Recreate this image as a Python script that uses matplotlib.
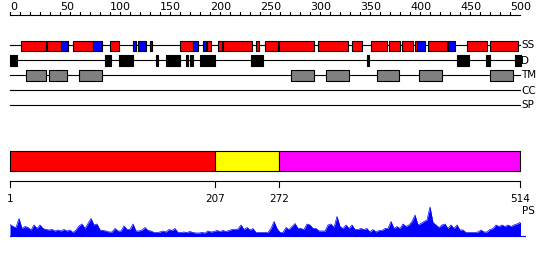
import numpy as np
import matplotlib
matplotlib.use("Agg")
import matplotlib.pyplot as plt

# ------------------------------------------------------------
# data (residue numbers)
# ------------------------------------------------------------
ruler_max = 500
track_names = ["SS", "D", "TM", "CC", "SP"]

ss_helix = [(11, 36), (37, 51), (63, 83), (100, 109), (170, 183), (197, 201),
            (208, 212), (213, 242), (246, 249), (255, 268), (269, 304),
            (308, 338), (342, 352), (361, 377), (379, 390), (392, 403),
            (405, 407), (418, 437), (457, 477), (480, 508)]
ss_strand = [(51, 58), (83, 92), (123, 126), (128, 136), (140, 142),
             (183, 188), (193, 196), (407, 415), (438, 445)]
disorder = [(0, 7), (95, 101), (109, 113), (114, 120), (121, 123), (146, 148),
            (156, 170), (176, 178), (180, 183), (190, 199), (200, 205),
            (241, 253), (357, 359), (447, 459), (476, 480), (505, 511)]
tm_helix = [(16, 36), (39, 57), (69, 92), (281, 304), (316, 339),
            (367, 389), (409, 432), (480, 503)]
coiled_coil = []
signal_peptide = []

domain_bounds = [1, 207, 272, 514]
domain_colors = ["#ff0000", "#ffff00", "#ff00ff"]

# PS profile, one value every 3 residues (0..510)
ps_step = 3
ps_height = [11, 9, 8, 17, 7, 9, 8, 5.5, 10.5, 7, 10.5, 7, 6, 5.5, 6, 4.5,
             5.5, 4.5, 6, 4.5, 5.5, 3, 5.5, 9.5, 11.5, 7, 12, 17, 10.5, 11.5,
             5.5, 5, 4.5, 3.5, 3.5, 7, 4.5, 4.5, 9.5, 6, 6, 11.5, 4.5, 4.5,
             5.5, 8, 5, 4.5, 3, 3, 3.5, 4.5, 3.5, 6, 5, 7, 3, 3, 3.5, 3, 4,
             3, 2.5, 2.5, 3, 2.5, 4.5, 3.5, 4, 5, 4, 5, 4, 5, 6, 6, 6.5, 10.5,
             6, 8, 5.5, 7, 3, 3, 3, 3, 3, 7, 14, 7, 3, 3, 8, 6, 9, 12, 7, 7, 6,
             11.5, 10.5, 7, 7, 4.5, 4.5, 4.5, 10.5, 11.5, 8, 19, 9, 7, 10.5, 7,
             10.5, 6, 6, 7, 6, 7, 3.5, 6, 3.5, 5, 5, 7, 7, 14, 7, 9, 7, 11.5, 9,
             10.5, 14, 20.5, 10.5, 12, 14, 15.5, 28.5, 13, 10.5, 8, 10.5, 11.5,
             7, 10.5, 7, 10.5, 5.5, 5.5, 3, 3, 3, 3, 3.5, 5.5, 3.5, 3.5, 6, 7,
             10.5, 9, 10.5, 9, 10.5, 9, 10.5, 11.5, 13, 19.5]
ps_res = np.arange(len(ps_height)) * ps_step

W, H = 550, 260
LW = 0.8


def px_axes(fig, x0, y0, x1, y1):
    ax = fig.add_axes([x0 / W, 1 - y1 / H, (x1 - x0) / W, (y1 - y0) / H])
    ax.set_axis_off()
    return ax


def spans(lst):
    return [(s, e - s) for s, e in lst]


fig = plt.figure(figsize=(5.5, 2.6), dpi=100)

# ============================================================
# top: ruler + feature tracks
# ============================================================
top = px_axes(fig, 0, 0, 550, 115)
top.set_xlim(-10, 540)
top.set_ylim(115, 0)

top.plot([0, 510], [15, 15], color="k", lw=LW)
for t in range(0, ruler_max + 1, 10):
    top.plot([t, t], [11.5, 15], color="k", lw=LW)
    if t % 50 == 0:
        top.text(t, 10, str(t), ha="left", va="baseline", fontsize=8)

track_y = [45, 60, 75, 90, 105]
for name, y in zip(track_names, track_y):
    top.plot([0, 510], [y, y], color="k", lw=LW, zorder=1)
    top.text(511, y + 0.5, name, ha="left", va="center", fontsize=7.5)

box = dict(edgecolors="k", linewidth=LW, zorder=2)
top.broken_barh(spans(ss_helix), (40.5, 10), facecolors="#ff0000", **box)
top.broken_barh(spans(ss_strand), (40.5, 10), facecolors="#0000ff", **box)
top.broken_barh(spans(disorder), (54.5, 11), facecolors="k", **box)
top.broken_barh(spans(tm_helix), (70, 10.5), facecolors="#808080", **box)
top.broken_barh(spans(coiled_coil), (85, 10), facecolors="#00aa00", **box)
top.broken_barh(spans(signal_peptide), (100, 10), facecolors="#00aaff", **box)

# ============================================================
# domain bar + position ruler
# ============================================================
bar = px_axes(fig, 10, 140, 520, 210)
bar.set_xlim(domain_bounds[0], domain_bounds[-1])
bar.set_ylim(210, 140)

dom = [(a, b) for a, b in zip(domain_bounds[:-1], domain_bounds[1:])]
bar.broken_barh(spans(dom), (150.5, 20.5), facecolors=domain_colors,
                edgecolors="k", linewidth=LW, clip_on=False)
bar.plot([domain_bounds[0], domain_bounds[-1]], [181, 181], color="k",
         lw=LW, clip_on=False)
for b in domain_bounds:
    bar.plot([b, b], [181, 187], color="k", lw=LW, clip_on=False)
    bar.text(b, 199, str(b), ha="center", va="center", fontsize=7.5)

# ============================================================
# PS profile
# ============================================================
ps = px_axes(fig, 10, 200, 520, 235.5)
ps.set_xlim(0, 510)
ps.set_ylim(0, 35.5)
ps.fill_between(ps_res, 0, ps_height, color="#0000ff", lw=0)
ps.plot(ps_res, ps_height, color="#0000ff", lw=0.5)
ps.plot([0, 515], [0, 0], color="#0000ff", lw=LW, clip_on=False)
fig.text(522 / W, 1 - 211 / H, "PS", ha="left", va="center", fontsize=7.5)

fig.savefig("out.png", dpi=100)
